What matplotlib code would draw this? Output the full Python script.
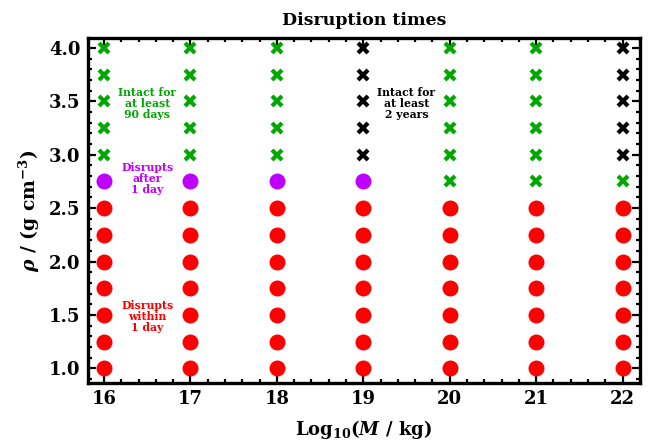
import matplotlib
matplotlib.use("Agg")
import matplotlib.pyplot as plt
from matplotlib.ticker import MultipleLocator, FormatStrFormatter

# Data
log_mass = [16, 17, 18, 19, 20, 21, 22]
density = [1.0, 1.25, 1.5, 1.75, 2.0, 2.25, 2.5, 2.75, 3.0, 3.25, 3.5, 3.75, 4.0]
# outcome codes per mass column (bottom -> top):
# R = disrupts within 1 day, P = disrupts after 1 day,
# G = intact for at least 90 days, K = intact for at least 2 years
outcomes = {
    16: "RRRRRRRPGGGGG",
    17: "RRRRRRRPGGGGG",
    18: "RRRRRRRPGGGGG",
    19: "RRRRRRRPKKKKK",
    20: "RRRRRRRGGGGGG",
    21: "RRRRRRRGGGGGG",
    22: "RRRRRRRGKKKKK",
}
labels = {
    "R": "Disrupts\nwithin\n1 day",
    "P": "Disrupts\nafter\n1 day",
    "G": "Intact for\nat least\n90 days",
    "K": "Intact for\nat least\n2 years",
}
label_pos = {"R": (16.5, 1.48), "P": (16.5, 2.78), "G": (16.5, 3.48), "K": (19.5, 3.48)}

colors = {"R": "#ff0000", "P": "#bf00ff", "G": "#00a800", "K": "#000000"}

plt.rcParams['font.family'] = ['DejaVu Serif']
plt.rcParams['font.weight'] = 'bold'
plt.rcParams['mathtext.fontset'] = 'custom'
plt.rcParams['mathtext.rm'] = 'DejaVu Serif:bold'
plt.rcParams['mathtext.it'] = 'DejaVu Serif:italic:bold'
plt.rcParams['mathtext.bf'] = 'DejaVu Serif:bold'

fig = plt.figure(figsize=(6.49, 4.45), dpi=100)
ax = fig.add_axes([0.135, 0.139, 0.851, 0.7745])

for code in "RPGK":
    xs, ys = [], []
    for m in log_mass:
        for d, c in zip(density, outcomes[m]):
            if c == code:
                xs.append(m)
                ys.append(d)
    if code in "RP":
        ax.plot(xs, ys, 'o', ms=11.5, color=colors[code], mec='none', zorder=3)
    else:
        ax.plot(xs, ys, 'x', ms=7.5, mew=3.0, color=colors[code], zorder=3)

for code, txt in labels.items():
    x, y = label_pos[code]
    ax.text(x, y, txt, color=colors[code], ha='center', va='center',
            fontsize=7.8, fontweight='bold', linespacing=1.0, zorder=4)

ax.set_xlim(15.81, 22.2)
ax.set_ylim(0.86, 4.09)
ax.xaxis.set_major_locator(MultipleLocator(1))
ax.xaxis.set_minor_locator(MultipleLocator(0.2))
ax.yaxis.set_major_locator(MultipleLocator(0.5))
ax.yaxis.set_minor_locator(MultipleLocator(0.1))
ax.yaxis.set_major_formatter(FormatStrFormatter('%.1f'))

ax.tick_params(which='both', direction='in', top=True, right=True, width=1.6, colors='black')
ax.tick_params(which='major', length=6, labelsize=13, pad=5)
ax.tick_params(which='minor', length=3)
for lab in ax.get_xticklabels() + ax.get_yticklabels():
    lab.set_fontweight('bold')
for s in ax.spines.values():
    s.set_linewidth(2.4)

ax.set_title("Disruption times", fontsize=12.5, fontweight='bold', pad=10)
ax.set_xlabel(r"Log$_{10}$($M$ / kg)", fontsize=13, fontweight='bold', labelpad=7)
ax.set_ylabel(r"$\rho$ / (g cm$^{-3}$)", fontsize=13.5, fontweight='bold', labelpad=5)

fig.savefig("out.png", dpi=100)
